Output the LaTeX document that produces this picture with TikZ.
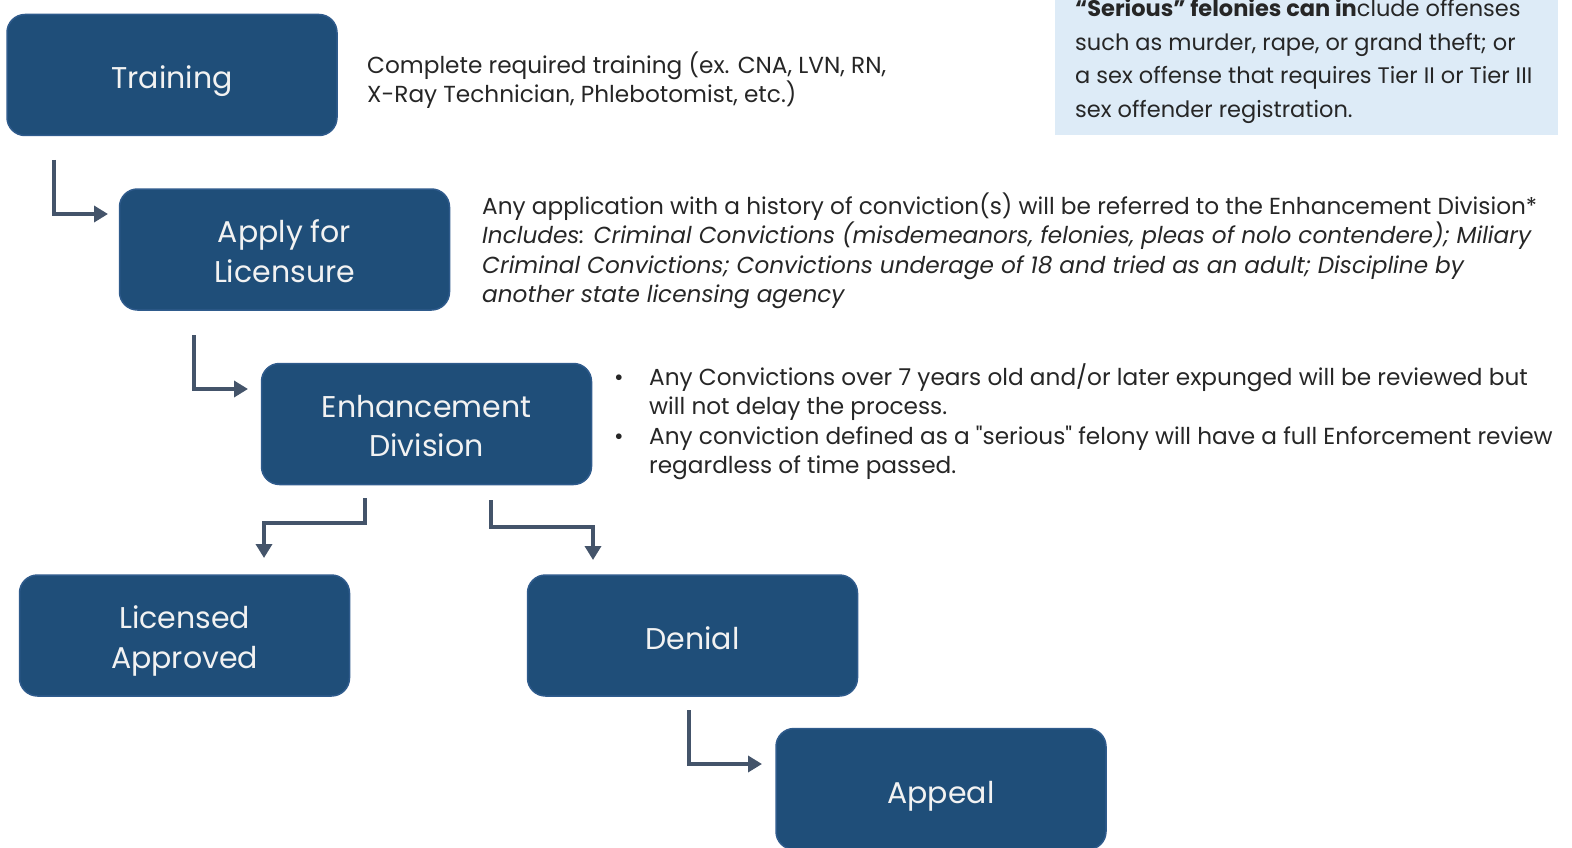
\documentclass[tikz,border=0pt]{standalone}
\usepackage{fontspec}
\setmainfont{Poppins}
\usetikzlibrary{arrows.meta}
\definecolor{boxblue}{HTML}{1F4E79}
\definecolor{boxedge}{HTML}{2F5B8C}
\definecolor{boxtext}{HTML}{F2F2F2}
\definecolor{arrowgray}{HTML}{44546A}
\definecolor{notetext}{HTML}{262626}
\definecolor{notefill}{HTML}{DDEBF7}

\begin{document}
\begin{tikzpicture}[x=1pt,y=-1pt,
						stepbox/.style={rectangle, rounded corners=18pt, draw=boxedge, line width=1.5pt, fill=boxblue, text=boxtext, minimum width=330pt, minimum height=121pt, align=center, text height=28pt, text depth=0pt, font=\fontsize{30}{39.5}\selectfont},
						twoline/.style={stepbox, text height=65pt},
						note/.style={anchor=west, align=left, text=notetext, inner sep=0pt, font=\fontsize{23.2}{29.5}\selectfont},
						flow/.style={draw=arrowgray, line width=3.8pt, -{Triangle[length=14pt,width=16pt]}},
						]
						\useasboundingbox (0,0) rectangle (1572,848);
						%Nodes
						\node[stepbox]      (train) 	at 	(172,75)          {Training};
						\node[twoline]      (apply) 	at 	(284.5,249.5)     {Apply for\\Licensure};
						\node[twoline]      (enhance) 	at 	(426.5,424)       {Enhancement\\Division};
						\node[twoline]      (licensed) 	at 	(184.5,635.5)     {Licensed\\Approved};
						\node[stepbox]      (denial) 	at 	(692.5,635.5)     {Denial};
						\node[stepbox]      (appeal) 	at 	(941,789)         {Appeal};
						
						%Notes
						\node[note]     (trainnote) 	at 	(367,80)    {Complete required training (ex. CNA, LVN, RN,\\X-Ray Technician, Phlebotomist, etc.)};
						\node[note]     (applynote) 	at 	(482,251)   {Any application with a history of conviction(s) will be referred to the Enhancement Division*\\
							\itshape Includes: Criminal Convictions (misdemeanors, felonies, pleas of nolo contendere); Miliary\\
							\itshape Criminal Convictions; Convictions underage of 18 and tried as an adult; Discipline by\\
							\itshape another state licensing agency};
						\node[note]     (enhancenote) 	at 	(614,421.5) {\makebox[35pt][l]{\textbullet}Any Convictions over 7 years old and/or later expunged will be reviewed but\\
							\hspace*{35pt}will not delay the process.\\
							\makebox[35pt][l]{\textbullet}Any conviction defined as a \textquotedbl serious\textquotedbl{} felony will have a full Enforcement review\\
							\hspace*{35pt}regardless of time passed.};
						\fill[notefill] (1055,-15) rectangle (1558,135);
						\node[note, font=\fontsize{22.5}{33.5}\selectfont]
						                (serious) 	at 	(1075,61) {{\bfseries “Serious” felonies can in}clude offenses\\such as murder, rape, or grand theft; or\\a sex offense that requires Tier II or Tier III\\sex offender registration.};
						
						%Arrows
						\coordinate     (t1) 	at 	(54,160);
						\coordinate     (a0) 	at 	(108,214);
						\coordinate     (a1) 	at 	(194,335);
						\coordinate     (e0) 	at 	(248,389);
						\coordinate     (e1) 	at 	(365,498);
						\coordinate     (l0) 	at 	(264,558);
						\coordinate     (e2) 	at 	(491,500);
						\coordinate     (d0) 	at 	(593,560);
						\coordinate     (d1) 	at 	(689,710);
						\coordinate     (p0) 	at 	(762,764);
						
						\draw[flow] (t1) |- (a0);
						\draw[flow] (a1) |- (e0);
						\draw[flow] (e1) -- ++(0,25) -| (l0);
						\draw[flow] (e2) -- ++(0,27) -| (d0);
						\draw[flow] (d1) |- (p0);
					\end{tikzpicture}
\end{document}
